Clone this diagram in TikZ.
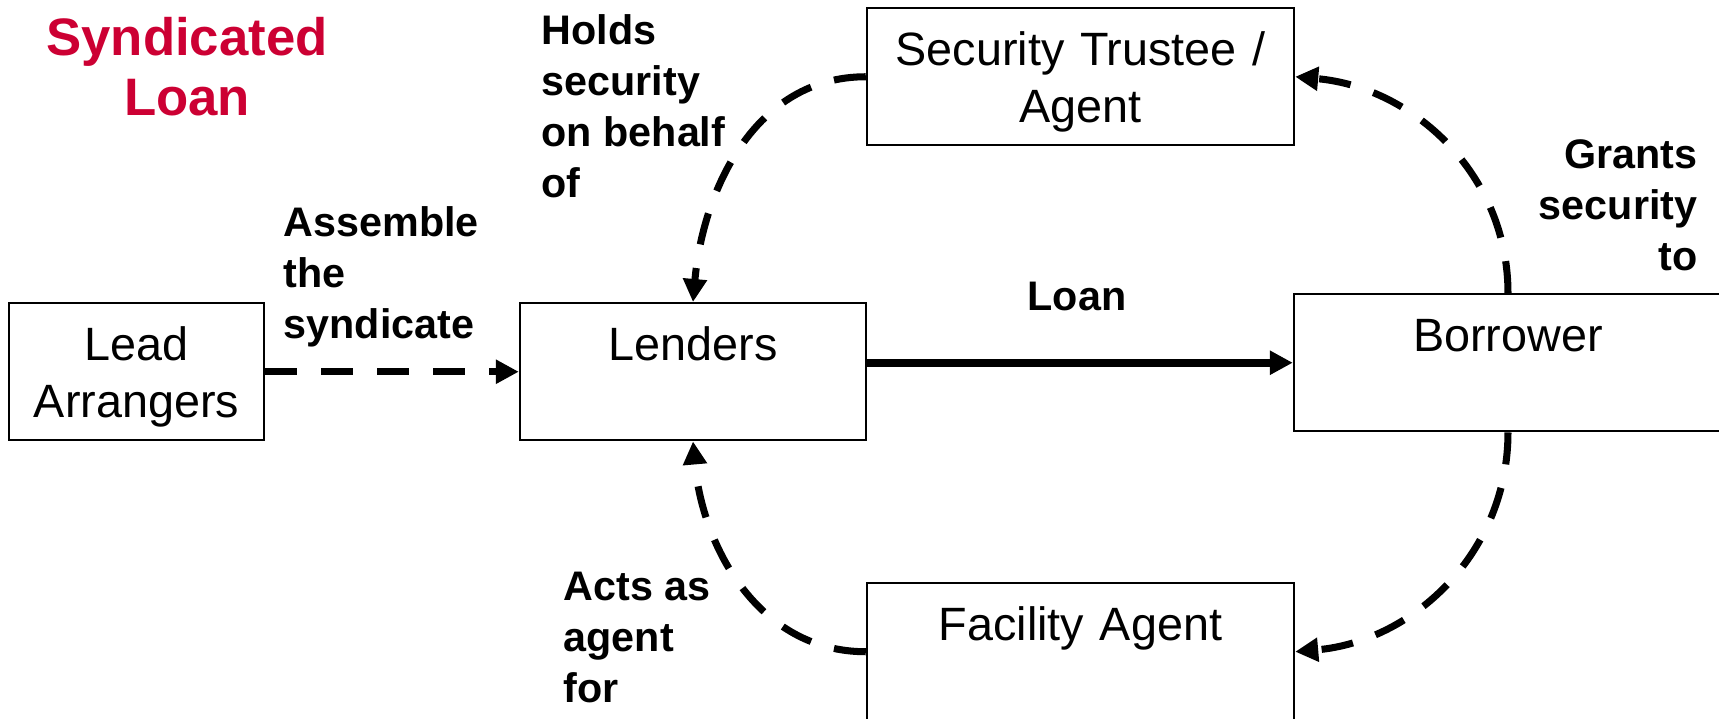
\documentclass[tikz,border=0pt]{standalone}
\usepackage{fontspec}
\setmainfont{Liberation Sans}
\usetikzlibrary{arrows.meta}
\definecolor{titlered}{RGB}{204,0,51}
\tikzset{
  box/.style={draw, line width=0.7pt, inner sep=0pt, anchor=north, align=center,
    text height=0.57cm, text depth=0.8cm, font=\fontsize{13.3pt}{16.2pt}\selectfont},
  lbl/.style={inner sep=0pt, font=\bfseries\fontsize{11.75pt}{14.5pt}\selectfont},
  flow/.style={line width=2pt, dash pattern=on 0.32cm off 0.24cm,
    -{Triangle[length=0.23cm,width=0.23cm]}},
  money/.style={line width=2.4pt, -{Triangle[length=0.23cm,width=0.23cm]}}
}
\begin{document}
\begin{tikzpicture}
\useasboundingbox (0,0) rectangle (17.19,-7.18);
\clip (0,0) rectangle (17.19,-7.18);
% title
\node[inner sep=0pt, anchor=north, align=center, text=titlered,
  font=\bfseries\fontsize{15pt}{17pt}\selectfont] (title) at (1.87,-0.17) {Syndicated\\Loan};
% parties
\node[box, text width=2.55cm] (lead) at (1.365,-3.02) {Lead\\Arrangers};
\node[box, text width=3.46cm] (lenders) at (6.93,-3.02) {Lenders};
\node[box, text width=4.27cm] (sec) at (10.805,-0.07) {Security Trustee /\\Agent};
\node[box, text width=4.28cm] (borrower) at (15.08,-2.93) {Borrower};
\node[box, text width=4.27cm] (facility) at (10.805,-5.82) {Facility Agent};
% labels
\node[lbl, anchor=north west, align=left] (holds) at (5.41,-0.135) {Holds\\security\\on behalf\\of};
\node[lbl, anchor=north west, align=left] (assemble) at (2.83,-2.06) {Assemble\\the\\syndicate};
\node[lbl, anchor=north east, align=right] (grants) at (16.98,-1.39) {Grants\\security\\to};
\node[lbl, anchor=north west, align=left] (acts) at (5.63,-5.71) {Acts as\\agent\\for};
\node[lbl, anchor=base] (loanlbl) at (10.77,-3.10) {Loan};
% connectors
\draw[flow] (lead.east) -- (lead.east -| lenders.west);
\draw[money] (lenders.east |- borrower.west) -- (borrower.west);
\draw[flow] (sec.west) to[out=180,in=85] (lenders.north);
\draw[flow] (borrower.north) to[out=90,in=-5] (sec.east);
\draw[flow] (borrower.south) to[out=-90,in=5] (facility.east);
\draw[flow] (facility.west) to[out=180,in=-85] (lenders.south);
\end{tikzpicture}
\end{document}
